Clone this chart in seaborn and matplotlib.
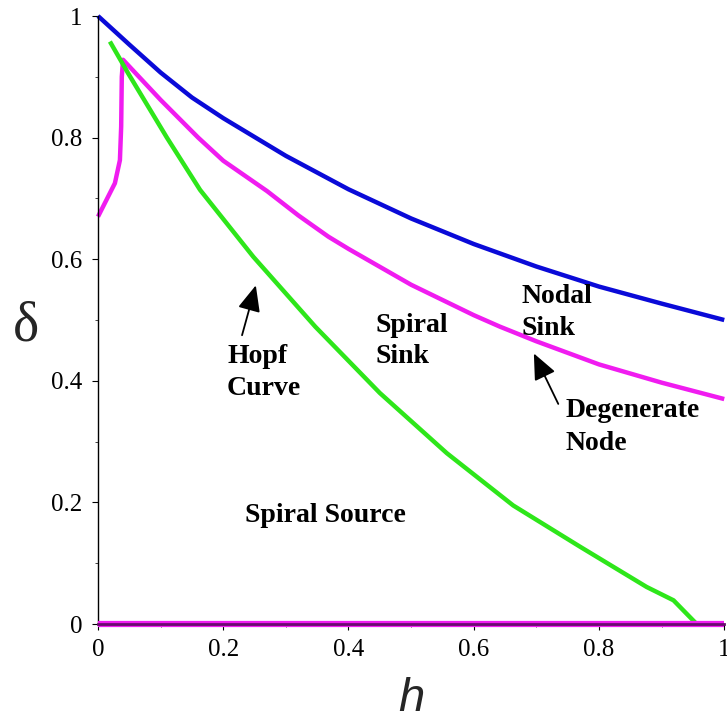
import matplotlib
matplotlib.use("Agg")
import matplotlib.pyplot as plt
import seaborn as sns
import pandas as pd
from matplotlib.ticker import MultipleLocator, FormatStrFormatter

# ---- data ----
blue_h = [0.0, 0.05, 0.1, 0.15, 0.2, 0.3, 0.4, 0.5, 0.6, 0.7, 0.8, 0.9, 1.0]
blue_d = [1.0, 0.953, 0.907, 0.866, 0.832, 0.77, 0.715, 0.667, 0.625, 0.588,
          0.555, 0.527, 0.5]

mag_h = [0.0, 0.027, 0.035, 0.037, 0.038, 0.04, 0.1, 0.16, 0.2, 0.27, 0.32,
         0.368, 0.4, 0.5, 0.6, 0.642, 0.7, 0.8, 0.9, 1.0]
mag_d = [0.67, 0.725, 0.763, 0.818, 0.90, 0.928, 0.862, 0.80, 0.762, 0.712, 0.672,
         0.637, 0.617, 0.558, 0.508, 0.489, 0.465, 0.427, 0.397, 0.37]

green_h = [0.019, 0.048, 0.11, 0.163, 0.248, 0.347, 0.45, 0.557, 0.663, 0.77,
           0.876, 0.919, 0.956]
green_d = [0.958, 0.906, 0.80, 0.714, 0.604, 0.489, 0.38, 0.281, 0.195, 0.127,
           0.061, 0.039, 0.0]

base_h = [0.0, 1.0]
base_d = [0.0, 0.0]

x_ticks = [0, 0.2, 0.4, 0.6, 0.8, 1]
y_ticks = [0, 0.2, 0.4, 0.6, 0.8, 1]

BLUE = "#0a0ad8"
MAGENTA = "#f01cf0"
GREEN = "#2ee61a"

sns.set_style("ticks")
plt.rcParams["font.family"] = ["Liberation Serif", "DejaVu Serif"]

fig = plt.figure(figsize=(7.27, 7.21), dpi=100)
ax = fig.add_axes([0.1348, 0.1345, 0.8614, 0.8433])

def draw(h, d, color, z=2, lw=3.2):
    df = pd.DataFrame({"h": h, "d": d})
    sns.lineplot(data=df, x="h", y="d", ax=ax, color=color, lw=lw,
                 sort=False, estimator=None, zorder=z)

draw(blue_h, blue_d, BLUE)
draw(mag_h, mag_d, MAGENTA)
draw(green_h, green_d, GREEN, z=3)
draw(base_h, base_d, MAGENTA, z=4, lw=4.5)
for ln in ax.get_lines():
    ln.set_clip_on(False)
    ln.set_solid_capstyle("butt")
    ln.set_solid_joinstyle("round")

ax.set_xlim(0, 1)
ax.set_ylim(0, 1)
ax.set_xticks(x_ticks)
ax.set_yticks(y_ticks)
ax.xaxis.set_minor_locator(MultipleLocator(0.1))
ax.yaxis.set_minor_locator(MultipleLocator(0.1))
ax.xaxis.set_major_formatter(FormatStrFormatter("%g"))
ax.yaxis.set_major_formatter(FormatStrFormatter("%g"))
ax.tick_params(which="major", direction="out", length=4, width=0.8,
               labelsize=18, pad=7, colors="black")
ax.tick_params(which="minor", direction="out", length=2.5, width=0.6)
for s in ["top", "right"]:
    ax.spines[s].set_visible(False)
ax.spines["left"].set_color("black")
ax.spines["left"].set_linewidth(1.0)
ax.spines["bottom"].set_color("#6a0a70")
ax.spines["bottom"].set_linewidth(2.0)
ax.spines["bottom"].set_zorder(6)

ax.set_xlabel("h", fontsize=34, fontstyle="italic",
              family=["Liberation Sans", "DejaVu Sans"], va="baseline")
ax.xaxis.set_label_coords(0.5, -0.143)
ax.set_ylabel("δ", fontsize=40, rotation=0, va="center", ha="center")
ax.yaxis.set_label_coords(-0.115, 0.49)

tk = dict(fontsize=20, fontweight="bold", color="black", ha="left", va="baseline")
ax.text(0.206, 0.429, "Hopf", **tk)
ax.text(0.206, 0.377, "Curve", **tk)
ax.text(0.443, 0.480, "Spiral", **tk)
ax.text(0.443, 0.429, "Sink", **tk)
ax.text(0.677, 0.528, "Nodal", **tk)
ax.text(0.677, 0.475, "Sink", **tk)
ax.text(0.746, 0.340, "Degenerate", **tk)
ax.text(0.746, 0.286, "Node", **tk)
ax.text(0.235, 0.168, "Spiral Source", **tk)

arrow = dict(arrowstyle="-|>,head_length=0.8,head_width=0.35", color="black",
             lw=1.3, shrinkA=0, shrinkB=0, mutation_scale=20)
ax.annotate("", xy=(0.252, 0.557), xytext=(0.230, 0.475), arrowprops=arrow)
ax.annotate("", xy=(0.696, 0.445), xytext=(0.735, 0.362), arrowprops=arrow)

fig.savefig("out.png", dpi=100, facecolor="white")
